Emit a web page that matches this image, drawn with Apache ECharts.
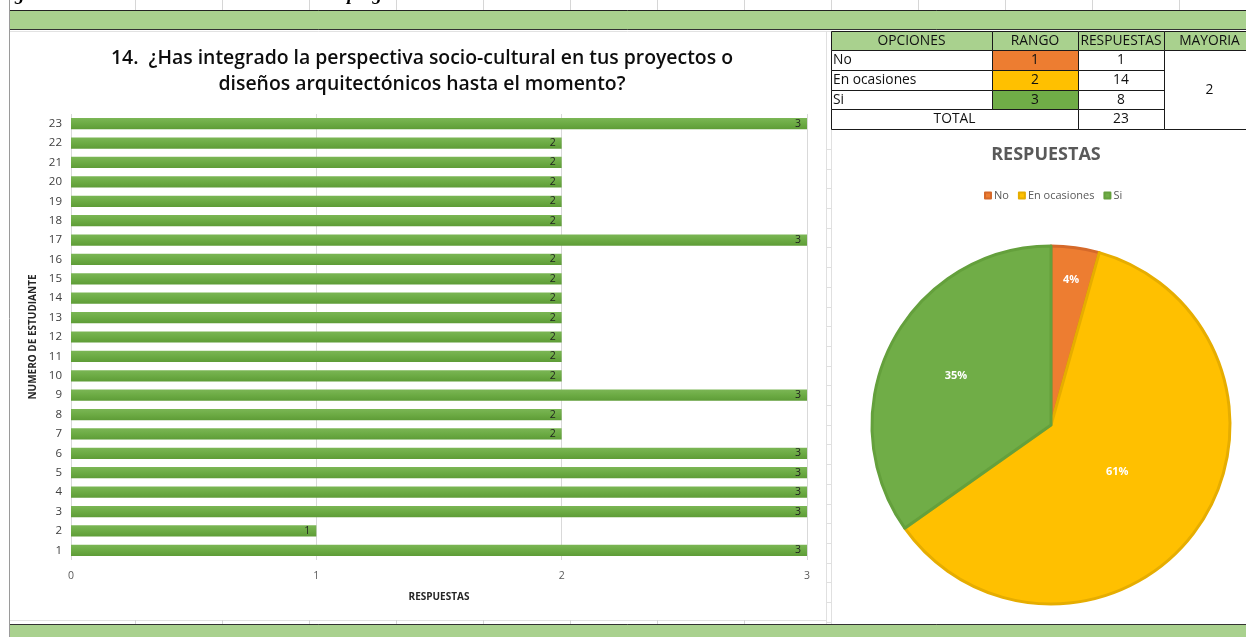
<!DOCTYPE html>
<html>
<head>
<meta charset="utf-8">
<script src="https://cdn.jsdelivr.net/npm/echarts@6/dist/echarts.min.js"></script>
<style>
  html, body { margin: 0; padding: 0; background: #ffffff; }
  #chart { width: 1246px; height: 637px; }
</style>
</head>
<body>
<div id="chart"></div>
<script>
// Student number (category axis) and the answer each student gave (1 = No, 2 = En ocasiones, 3 = Si)
const students = ['1','2','3','4','5','6','7','8','9','10','11','12','13','14','15','16','17','18','19','20','21','22','23'];
const answers  = [3, 1, 3, 3, 3, 3, 2, 2, 3, 2, 2, 2, 2, 2, 2, 2, 3, 2, 2, 2, 2, 2, 3];

// Summary table and pie
const optionNames  = ['No', 'En ocasiones', 'Si'];
const optionRanks  = [1, 2, 3];
const optionCounts = [1, 14, 8];
const majority     = 2;
const tableHeaders = ['OPCIONES', 'RANGO', 'RESPUESTAS', 'MAYORIA'];

const questionText = '14.  ¿Has integrado la perspectiva socio-cultural en tus proyectos o\ndiseños arquitectónicos hasta el momento?';

const FONT = "'Open Sans', 'Noto Sans', sans-serif";
const optionColors  = ['#ED7D31', '#FFC000', '#70AD47'];
const optionBorders = ['#D5692A', '#E6AD00', '#64A03C'];
// distance of each percentage label from the pie centre (best-fit placement)
const pieLabelDist  = [144, 78, 104];
const BAND = '#A9D18E';

const total = optionCounts.reduce((a, b) => a + b, 0);

// ---- summary table built as graphic elements ----
const colX = [831, 992, 1078, 1164, 1255];
const rowY = [31, 50, 70, 90, 109, 129];
const tableEls = [];
function cell(x0, x1, y0, y1, fill, text, align) {
  tableEls.push({
    type: 'rect',
    z: 20,
    shape: { x: x0 + 0.5, y: y0 + 0.5, width: x1 - x0, height: y1 - y0 },
    style: { fill: fill || '#ffffff', stroke: '#1a1a1a', lineWidth: 1 }
  });
  if (text !== undefined && text !== null) {
    tableEls.push({
      type: 'text',
      z: 21,
      x: align === 'left' ? x0 + 2 : (x0 + x1) / 2,
      y: (y0 + y1) / 2 + 0.5,
      style: {
        text: String(text),
        fill: '#111111',
        font: '13.8px ' + FONT,
        textAlign: align === 'left' ? 'left' : 'center',
        textVerticalAlign: 'middle'
      }
    });
  }
}
tableHeaders.forEach((h, i) => cell(colX[i], colX[i + 1], rowY[0], rowY[1], BAND, h));
optionNames.forEach((name, i) => {
  cell(colX[0], colX[1], rowY[i + 1], rowY[i + 2], null, name, 'left');
  cell(colX[1], colX[2], rowY[i + 1], rowY[i + 2], optionColors[i], optionRanks[i]);
  cell(colX[2], colX[3], rowY[i + 1], rowY[i + 2], null, optionCounts[i]);
});
cell(colX[0], colX[2], rowY[4], rowY[5], null, 'TOTAL');
cell(colX[2], colX[3], rowY[4], rowY[5], null, total);
cell(colX[3], colX[4], rowY[1], rowY[5], null, majority);

// ---- worksheet frame: green bands, cell grid lines ----
const frameEls = [];
function line(x1, y1, x2, y2, color, w) {
  frameEls.push({ type: 'line', z: 1, shape: { x1, y1, x2, y2 },
    style: { stroke: color, lineWidth: w || 1 } });
}
frameEls.push({ type: 'rect', z: 1, shape: { x: 9, y: 10, width: 1240, height: 20 }, style: { fill: BAND } });
frameEls.push({ type: 'rect', z: 1, shape: { x: 9, y: 624, width: 1240, height: 14 }, style: { fill: BAND } });
line(9, 10.5, 1246, 10.5, '#222222');
line(9, 29.5, 1246, 29.5, '#333333');
line(9, 624.5, 1246, 624.5, '#333333');
line(9, 31.5, 1246, 31.5, '#e2e2e2');
line(9, 620.5, 826, 620.5, '#e2e2e2');
line(9.5, 0, 9.5, 637, '#9a9a9a');
for (let x = 135; x < 1246; x += 87) {
  line(x + 0.5, 0, x + 0.5, 10, '#d6d6d6');
  if (x < 826) line(x + 0.5, 620, x + 0.5, 624, '#d6d6d6');
}
line(826.5, 31, 826.5, 624, '#e0e0e0');
line(831.5, 129, 831.5, 624, '#e0e0e0');
for (let y = 149; y < 624; y += 19.7) {
  line(826, Math.round(y) + 0.5, 832, Math.round(y) + 0.5, '#e0e0e0');
}

// Cut-off figure caption running along the top edge
const captionEls = [
  { type: 'text', z: 2, x: -3, y: 5, style: { text: 'Figura 14:', fill: '#000', font: 'italic bold 19px "Liberation Serif", serif', textVerticalAlign: 'bottom' } },
  { type: 'text', z: 2, x: 257, y: 5, style: { text: 'Resultados pregunta', fill: '#000', font: 'italic bold 19px "Liberation Serif", serif', textVerticalAlign: 'bottom' } }
];

// Transparent rings that only carry the percentage label of one slice each,
// so every label sits at its own distance from the centre.
const pieCenter = [1051, 425];
const labelRings = optionNames.map((n, k) => ({
  type: 'pie',
  center: pieCenter,
  radius: [pieLabelDist[k] - 1, pieLabelDist[k] + 1],
  startAngle: 90,
  clockwise: true,
  percentPrecision: 0,
  silent: true,
  z: 5,
  data: optionNames.map((m, i) => ({
    name: m, value: optionCounts[i],
    itemStyle: { color: 'rgba(0,0,0,0)', borderWidth: 0 },
    label: { show: i === k }
  })),
  label: {
    position: 'inside', formatter: '{d}%',
    fontFamily: FONT, fontSize: 11, fontWeight: 'bold', color: '#ffffff'
  },
  labelLine: { show: false },
  emphasis: { disabled: true },
  legendHoverLink: false
}));

const chart = echarts.init(document.getElementById('chart'), null, { renderer: 'canvas' });

chart.setOption({
  backgroundColor: '#ffffff',
  animation: false,
  title: [
    {
      text: questionText,
      left: 417, top: 40, textAlign: 'center',
      textStyle: { fontFamily: FONT, fontSize: 19.4, fontWeight: 600, lineHeight: 26, color: '#0d0d0d' }
    },
    {
      text: 'RESPUESTAS',
      left: 1041, top: 141, textAlign: 'center',
      textStyle: { fontFamily: FONT, fontSize: 18, fontWeight: 'bold', color: '#595959' }
    }
  ],
  legend: {
    data: optionNames,
    left: 979, top: 185,
    itemWidth: 6, itemHeight: 6, itemGap: 9,
    icon: 'rect',
    textStyle: { fontFamily: FONT, fontSize: 11, color: '#595959', padding: [0, 0, 0, -2] }
  },
  grid: { left: 71, right: 439, top: 114, height: 446, containLabel: false },
  xAxis: {
    type: 'value',
    min: 0, max: 3, interval: 1,
    name: 'RESPUESTAS',
    nameLocation: 'middle', nameGap: 32,
    nameTextStyle: { fontFamily: FONT, fontSize: 10, fontWeight: 'bold', color: '#262626' },
    axisLine: { show: false },
    axisTick: { show: false },
    axisLabel: { fontFamily: FONT, fontSize: 10.5, color: '#595959', margin: 11 },
    splitLine: { show: true, lineStyle: { color: '#d9d9d9', width: 1 } }
  },
  yAxis: {
    type: 'category',
    data: students,
    name: 'NUMERO DE ESTUDIANTE',
    nameLocation: 'middle', nameGap: 28, nameRotate: 90,
    nameTextStyle: { fontFamily: FONT, fontSize: 10, fontWeight: 'bold', color: '#262626' },
    axisLine: { show: false },
    axisTick: { show: false },
    axisLabel: { fontFamily: FONT, fontSize: 11.5, color: '#404040', margin: 9, interval: 0 }
  },
  series: [
    {
      type: 'bar',
      data: answers,
      barWidth: '58%',
      itemStyle: {
        color: new echarts.graphic.LinearGradient(0, 0, 0, 1, [
          { offset: 0, color: '#7bb655' },
          { offset: 0.5, color: '#6cab44' },
          { offset: 1, color: '#5e9c37' }
        ])
      },
      label: {
        show: true, position: 'insideRight', distance: 6,
        fontFamily: FONT, fontSize: 10.5, color: '#1f1f1f'
      }
    },
    {
      type: 'pie',
      center: pieCenter,
      radius: 179,
      startAngle: 90,
      clockwise: true,
      data: optionNames.map((n, i) => ({
        name: n, value: optionCounts[i],
        itemStyle: { color: optionColors[i], borderColor: optionBorders[i], borderWidth: 3 }
      })),
      label: { show: false },
      labelLine: { show: false },
      emphasis: { disabled: true }
    }
  ].concat(labelRings),
  color: optionColors,
  graphic: { elements: [].concat(frameEls, captionEls, tableEls) }
});
</script>
</body>
</html>
